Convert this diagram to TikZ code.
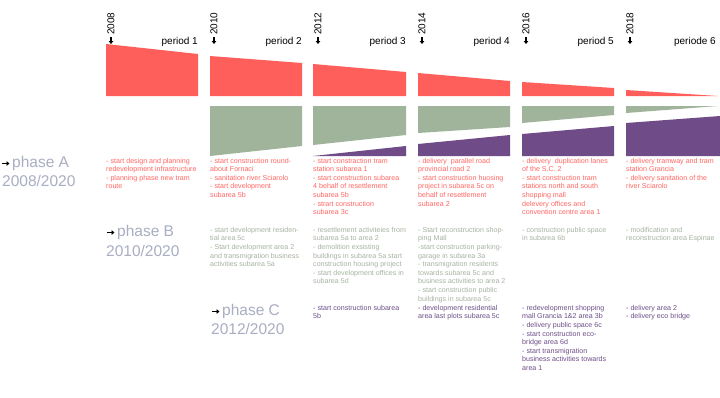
\documentclass[tikz,border=0pt]{standalone}
\usepackage{fontspec}
\setmainfont{Liberation Sans}
\usepackage{tikz}
\usetikzlibrary{arrows.meta, calc, positioning}
\definecolor{barred}{HTML}{FF5F5A}
\definecolor{bargreen}{HTML}{A0B49B}
\definecolor{barpurple}{HTML}{6F4B87}
\definecolor{textred}{HTML}{FF6663}
\definecolor{textgreen}{HTML}{A7B4A2}
\definecolor{textpurple}{HTML}{6E4E88}
\definecolor{phasegrey}{HTML}{A9AEC2}
\tikzstyle{redbar} = [fill=barred]
\tikzstyle{greenbar} = [fill=bargreen]
\tikzstyle{purplebar} = [fill=barpurple]
\tikzstyle{yearlabel} = [rotate=90, anchor=west, inner sep=0pt, font=\fontsize{10}{12}\selectfont]
\tikzstyle{periodlabel} = [anchor=base east, inner sep=0pt, font=\fontsize{10}{12}\selectfont]
\tikzstyle{phaselabel} = [anchor=west, inner sep=0pt, text=phasegrey, font=\fontsize{15.5}{18}\selectfont]
\tikzstyle{notes} = [anchor=north west, inner sep=0pt, align=left, font=\fontsize{7.1}{8.6}\selectfont]
\tikzstyle{notesA} = [notes, text=textred]
\tikzstyle{notesB} = [notes, text=textgreen]
\tikzstyle{notesC} = [notes, text=textpurple]
\tikzstyle{pointer} = [line width=1.3pt, -{Triangle[width=4.6pt,length=3pt]}]

\begin{document}
\begin{tikzpicture}[x=1pt, y=-1pt]
		\fill[white] (0,0) rectangle (720,397);
		\useasboundingbox (0,0) rectangle (720,397);
		% bars of the three phases
		\foreach \xl/\xr/\ta/\tb in {106/198/44/54, 210/302/56/63, 313/406/64/72, 418/510/73/81, 522/614/82/88}
			\fill[redbar] (\xl,\ta) -- (\xr,\tb) -- (\xr,96) -- (\xl,96) -- cycle;
		\fill[redbar] (626,90) -- (718,96) -- (626,96) -- cycle;
		\foreach \xl/\xr/\ba/\bb in {210/302/156/146, 313/406/145/135, 418/510/133/127, 522/614/123/115}
			\fill[greenbar] (\xl,106) -- (\xr,106) -- (\xr,\bb) -- (\xl,\ba) -- cycle;
		\fill[greenbar] (626,106) -- (718,106) -- (626,113) -- cycle;
		\foreach \xl/\xr/\ta/\tb in {313/406/156/146, 418/510/144/135, 522/614/134/126, 626/720/123/116}
			\fill[purplebar] (\xl,\ta) -- (\xr,\tb) -- (\xr,156) -- (\xl,156) -- cycle;
		% years and periods
		\foreach \yr/\xx in {2008/111, 2010/214, 2012/318, 2014/422, 2016/526, 2018/630}{
			\node (Y\yr) [yearlabel] at (\xx,35) {\yr};
			\draw [pointer] ($(Y\yr.west)+(0,2)$) -- ++(0,7);
		}
		\node (Period1) [periodlabel] at (198,44.5) {period 1};
		\node (Period2) [periodlabel] at (302,44.5) {period 2};
		\node (Period3) [periodlabel] at (406,44.5) {period 3};
		\node (Period4) [periodlabel] at (510,44.5) {period 4};
		\node (Period5) [periodlabel] at (614,44.5) {period 5};
		\node (Period6) [periodlabel] at (716,44.5) {periode 6};
		% phase labels
		\node (PhaseA) [phaselabel] at (12,163) {phase A};
		\node (PhaseAYears) [phaselabel] at (2,181) {2008/2020};
		\node (PhaseB) [phaselabel] at (117,232) {phase B};
		\node (PhaseBYears) [phaselabel] at (106,251) {2010/2020};
		\node (PhaseC) [phaselabel] at (222,311) {phase C};
		\node (PhaseCYears) [phaselabel] at (211,329) {2012/2020};
		\foreach \ph in {PhaseA, PhaseB, PhaseC}
			\draw [pointer] ($(\ph.west)+(-10,0.5)$) -- ($(\ph.west)+(-2.5,0.5)$);
		% phase A
		\node (NotesA1) [notesA] at (106,157.8) {- start design and planning\\redevelopment infrastructure\\- planning phase new tram\\route};
		\node (NotesA2) [notesA] at (210,157.8) {- start construction round-\\about Fornaci\\- sanitation river Sciarolo\\- start development\\subarea 5b};
		\node (NotesA3) [notesA] at (313,157.8) {- start constraction tram\\station subarea 1\\- start construction subarea\\4 behalf of resettlement\\subarea 5b\\- strart construction\\subarea 3c};
		\node (NotesA4) [notesA] at (418,157.8) {- delivery\ \ parallel road\\provincial road 2\\- start construction huosing\\project in subarea 5c on\\behalf of resettlement\\subarea 2};
		\node (NotesA5) [notesA] at (522,157.8) {- delivery\ \ duplication lanes\\of the S.C. 2\\- start construction tram\\stations north and south\\shopping mall\\delevery offices and\\convention centre area 1};
		\node (NotesA6) [notesA] at (626,157.8) {- delivery tramway and tram\\station Grancia\\- delivery sanitation of the\\river Sciarolo};
		% phase B
		\node (NotesB2) [notesB] at (210,227) {- start development residen-\\tial area 5c\\- Start development area 2\\and transmigration business\\activities subarea 5a};
		\node (NotesB3) [notesB] at (313,227) {- resettlement activiteies from\\subarea 5a to area 2\\- demolition exsisting\\buildings in subarea 5a start\\construction housing project\\- start development offices in\\subarea 5d};
		\node (NotesB4) [notesB] at (418,227) {- Start reconstruction shop-\\ping Mall\\-start construction parking-\\garage in subarea 3a\\- transmigration residents\\towards subarea 5c and\\business activities to area 2\\- start construction public\\buildings in subarea 5c};
		\node (NotesB5) [notesB] at (522,227) {- construction public space\\in subarea 6b};
		\node (NotesB6) [notesB] at (626,227) {- modification and\\reconstruction area Espinae};
		% phase C
		\node (NotesC3) [notesC] at (313,305) {- start construction subarea\\5b};
		\node (NotesC4) [notesC] at (418,305) {- development residential\\area last plots subarea 5c};
		\node (NotesC5) [notesC] at (522,305) {- redevelopment shopping\\mall Grancia 1\&2 area 3b\\- delivery public space 6c\\- start construction eco-\\bridge area 6d\\- start transmigration\\business activities towards\\area 1};
		\node (NotesC6) [notesC] at (626,305) {- delivery area 2\\- delivery eco bridge};
\end{tikzpicture}
\end{document}
